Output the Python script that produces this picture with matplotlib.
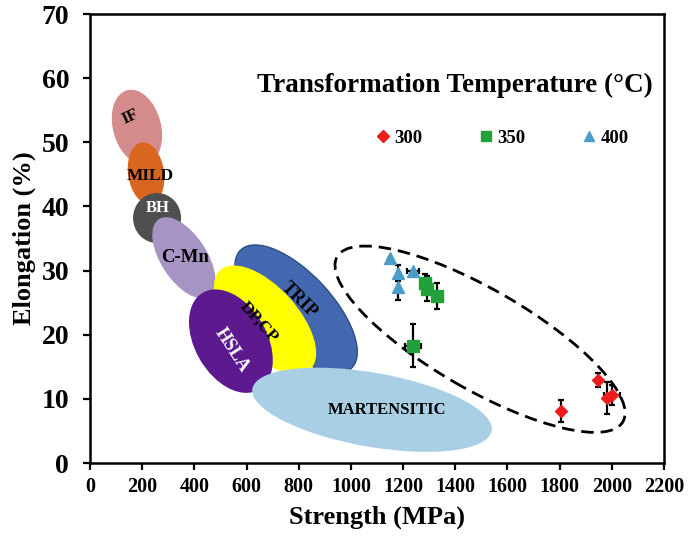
import matplotlib
matplotlib.use("Agg")
import matplotlib.pyplot as plt
import matplotlib.transforms as mtransforms
from matplotlib.patches import Ellipse
import numpy as np

plt.rcParams['font.family'] = ['Liberation Serif', 'DejaVu Serif']
plt.rcParams['font.weight'] = 'bold'

# steel classes: centre (MPa, %), size on screen (px), tilt (deg)
classes = ['IF', 'MILD', 'BH', 'C-Mn', 'TRIP', 'DP,CP', 'HSLA', 'MARTENSITIC']
cls_x = [180, 215, 257, 360, 790, 671, 540, 1081]
cls_y = [52.4, 45.2, 38.2, 32.0, 24.0, 22.3, 19.0, 8.3]
cls_w = [48, 36, 48, 92, 162, 134, 112, 243]
cls_h = [76, 62, 50, 46, 72, 66, 72, 74]
cls_ang = [15, 8, 0, -57, -47, -48, -60, -10]
cls_col = ['#d38b8c', '#d9661f', '#4f4f4f', '#a594c4', '#4468b0', '#ffff00', '#5c1a8e', '#a9cfe4']
cls_edge = ['none', 'none', 'none', 'none', '#2c4d88', 'none', 'none', 'none']

# label placement
lab_x = [153, 230, 261, 364, 801, 648, 544, 1138]
lab_y = [53.9, 44.7, 39.8, 32.0, 25.4, 22.0, 17.6, 8.3]
lab_rot = [25, 0, 0, 0, -45, -48, -57, 0]
lab_col = ['black', 'black', 'white', 'black', 'black', 'black', 'white', 'black']
lab_size = [12, 12.5, 12, 13.5, 13, 12.5, 13, 12]

# measured data by transformation temperature
t300_x = [1947, 1981, 2000, 1805]
t300_y = [12.9, 10.1, 10.6, 8.1]
t300_yerr = [1.1, 2.5, 1.5, 1.7]
t300_xerr = [0, 0, 30, 0]

t350_x = [1285, 1292, 1330, 1238]
t350_y = [28.0, 27.2, 26.0, 18.3]
t350_yerr = [1.5, 2.0, 2.0, 3.4]
t350_xerr = [0, 0, 0, 32]

t400_x = [1150, 1181, 1181, 1238]
t400_y = [32.0, 29.6, 27.4, 29.9]
t400_yerr = [0, 1.2, 2.0, 0]
t400_xerr = [0, 0, 0, 23]

fig = plt.figure(figsize=(6.89, 5.37), dpi=100)
ax = fig.add_axes([0.1306, 0.1378, 0.8331, 0.836])
ax.set_xlim(0, 2200)
ax.set_ylim(0, 70)

inch = fig.dpi_scale_trans
for i in range(len(classes)):
    tr = inch + mtransforms.ScaledTranslation(cls_x[i], cls_y[i], ax.transData)
    e = Ellipse((0, 0), cls_w[i] / 100, cls_h[i] / 100, angle=cls_ang[i],
                facecolor=cls_col[i], edgecolor=cls_edge[i], lw=1.0,
                transform=tr, zorder=1 + i)
    ax.add_patch(e)
    ax.text(lab_x[i], lab_y[i], classes[i], rotation=lab_rot[i], color=lab_col[i],
            fontsize=lab_size[i], fontweight='bold', ha='center', va='center',
            rotation_mode='anchor', zorder=20)

# dashed ellipse around the new steels
tr = inch + mtransforms.ScaledTranslation(1495, 19.3, ax.transData)
ax.add_patch(Ellipse((0, 0), 3.30, 1.00, angle=-30, facecolor='none',
                     edgecolor='black', lw=2, ls=(0, (4.5, 2.5)), transform=tr, zorder=25))

ekw = dict(fmt='none', ecolor='black', elinewidth=1.6, capsize=2.5, capthick=1.6, zorder=30)
ax.errorbar(t400_x, t400_y, yerr=t400_yerr, xerr=t400_xerr, **ekw)
ax.errorbar(t350_x, t350_y, yerr=t350_yerr, xerr=t350_xerr, **ekw)
ax.errorbar(t300_x, t300_y, yerr=t300_yerr, xerr=t300_xerr, **ekw)
h3, = ax.plot(t300_x, t300_y, ls='none', marker='D', ms=6.5, color='#ee1c1c', zorder=31, label='300')
h35, = ax.plot(t350_x, t350_y, ls='none', marker='s', ms=9, color='#22a03c', zorder=31, label='350')
h4, = ax.plot(t400_x, t400_y, ls='none', marker='^', ms=8, color='#4b9cc6', zorder=31, label='400')

ax.text(0.636, 0.840, 'Transformation Temperature (\u00b0C)', transform=ax.transAxes,
        ha='center', va='center', fontsize=19.5, fontweight='bold')
leg = ax.legend(handles=[h3, h35, h4], loc='center', bbox_to_anchor=(0.718, 0.724),
                ncol=3, frameon=False, handlelength=0.8, handletextpad=0.2,
                columnspacing=3.0, prop={'size': 13.5, 'weight': 'bold'})
for h in leg.legend_handles:
    h.set_markersize(6.5)

ax.set_xticks(np.arange(0, 2201, 200))
ax.set_yticks(np.arange(0, 71, 10))
ax.tick_params(axis='x', labelsize=14.5, length=5, width=1.6, pad=5)
ax.tick_params(axis='y', labelsize=20, length=5, width=1.6, pad=10)
for s in ax.spines.values():
    s.set_linewidth(1.8)

ax.set_xlabel('Strength (MPa)', fontsize=19, fontweight='bold', labelpad=6)
ax.set_ylabel('Elongation (%)', fontsize=19, fontweight='bold', labelpad=4)

fig.savefig('out.png', dpi=100)
